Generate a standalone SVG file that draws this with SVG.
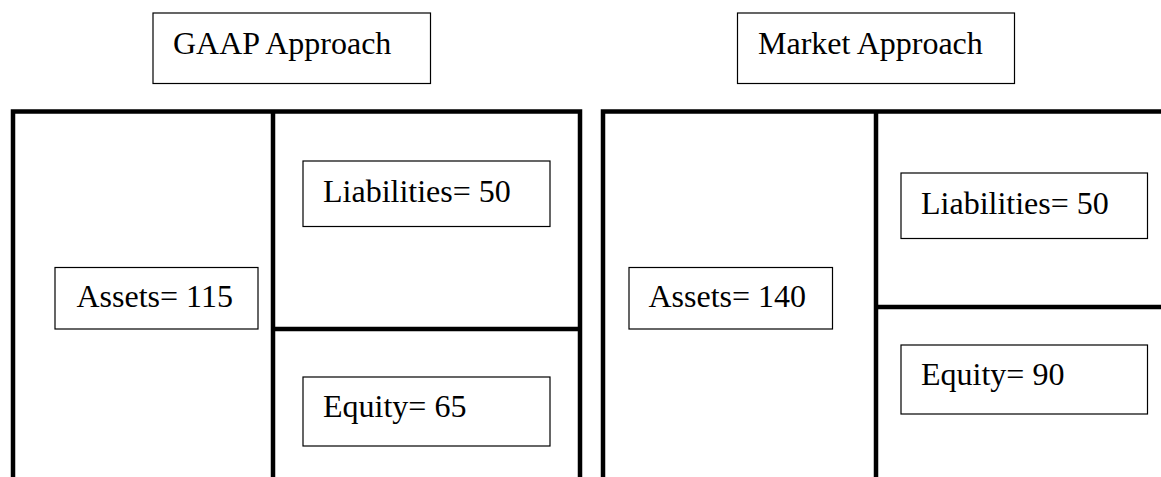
<svg xmlns="http://www.w3.org/2000/svg" width="1161" height="477" viewBox="0 0 1161 477">
<style>
.box{fill:#fff;stroke:#000;stroke-width:1.2}
.t{font-family:"Liberation Serif","Times New Roman",serif;font-size:32px;fill:#000}
.frame{fill:none;stroke:#000;stroke-width:4.5;stroke-linejoin:miter;stroke-linecap:butt}
</style>
<rect width="1161" height="477" fill="#fff"/>
<g id="frame-lines">
<path class="frame" d="M13,477 V111.5 H580 V477"/>
<path class="frame" d="M273,111.5 V477 M273,329 H580"/>
<path class="frame" d="M603,477 V111.5 H1165"/>
<path class="frame" d="M876,111.5 V477 M876,307 H1165"/>
</g>
<g id="gaap-title">
<rect class="box" x="153" y="13" width="277.5" height="70.5"/>
<text class="t" x="173" y="53.5">GAAP Approach</text>
</g>
<g id="gaap-liabilities">
<rect class="box" x="303" y="161" width="247" height="65.5"/>
<text class="t" x="323" y="202">Liabilities= 50</text>
</g>
<g id="gaap-assets">
<rect class="box" x="55" y="267.5" width="203" height="61.5"/>
<text class="t" x="76.5" y="307">Assets= 115</text>
</g>
<g id="gaap-equity">
<rect class="box" x="303" y="377" width="247" height="69"/>
<text class="t" x="323" y="417">Equity= 65</text>
</g>
<g id="market-title">
<rect class="box" x="737.5" y="13" width="277" height="70.5"/>
<text class="t" x="758" y="53.5">Market Approach</text>
</g>
<g id="market-liabilities">
<rect class="box" x="901" y="173" width="246.5" height="65.5"/>
<text class="t" x="921" y="213.5">Liabilities= 50</text>
</g>
<g id="market-assets">
<rect class="box" x="629" y="267.5" width="203.5" height="61.5"/>
<text class="t" x="648.5" y="307">Assets= 140</text>
</g>
<g id="market-equity">
<rect class="box" x="901" y="345" width="246.5" height="69"/>
<text class="t" x="921" y="385">Equity= 90</text>
</g>
</svg>
